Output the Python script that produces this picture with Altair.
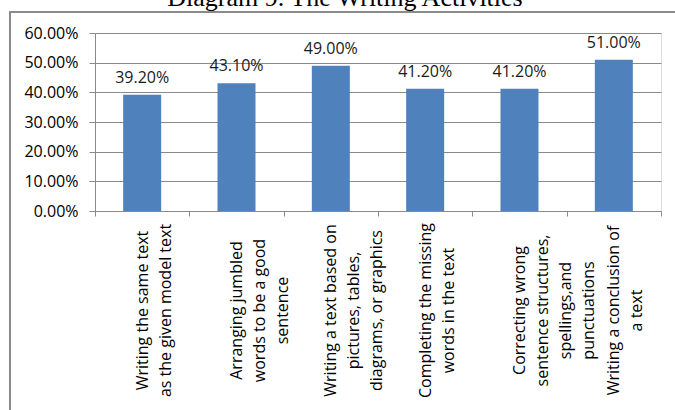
import altair as alt
import pandas as pd

# Data
categories = [
    "Writing the same text|as the given model text",
    "Arranging jumbled|words to be a good|sentence",
    "Writing a text based on|pictures, tables,|diagrams, or graphics",
    "Completing the missing|words in the text",
    "Correcting wrong|sentence structures,|spellings,and|punctuations",
    "Writing a conclusion of|a text",
]
values = [0.392, 0.431, 0.490, 0.412, 0.412, 0.510]
y_ticks = [0.0, 0.1, 0.2, 0.3, 0.4, 0.5, 0.6]
title_text = "Diagram 9. The Writing Activities"

df = pd.DataFrame({"activity": categories, "share": values})

FONT = "Open Sans"
GRAY = "#8a8a8a"

x_enc = alt.X(
    "activity:N",
    sort=None,
    title=None,
    scale=alt.Scale(paddingInner=0, paddingOuter=0),
    axis=alt.Axis(
        labelAngle=-90,
        labelAlign="center",
        labelBaseline="middle",
        labelExpr="split(datum.label, '|')",
        labelLineHeight=23,
        labelPadding=94,
        labelLimit=400,
        labelFont=FONT,
        labelFontSize=16,
        labelColor="#000000",
        labelOverlap=False,
        labelFlush=False,
        tickBand="extent",
        tickSize=5,
        tickColor=GRAY,
        domainColor=GRAY,
        grid=False,
    ),
)
y_enc = alt.Y(
    "share:Q",
    title=None,
    scale=alt.Scale(domain=[0, 0.6], nice=False),
    axis=alt.Axis(
        values=y_ticks,
        format=".2%",
        labelFont=FONT,
        labelFontSize=16,
        labelColor="#000000",
        labelPadding=11,
        labelOverlap=False,
        labelFlush=False,
        tickSize=6,
        tickColor=GRAY,
        domainColor=GRAY,
        grid=True,
        gridColor=GRAY,
        gridWidth=1,
    ),
)

base = alt.Chart(df).encode(x=x_enc, y=y_enc)

bars = base.mark_bar(color="#4F81BD", size=38)

labels = base.mark_text(
    font=FONT, fontSize=16, color="#1a1a1a", baseline="alphabetic", dy=-12
).encode(text=alt.Text("share:Q", format=".2%"))

border = alt.Chart(df).mark_rect(fill=None, stroke=GRAY, strokeWidth=1.2).encode(
    x=alt.value(-85), x2=alt.value(720), y=alt.value(-21), y2=alt.value(500)
)

title = alt.Chart(df).transform_filter("datum.activity == '" + categories[0] + "'").mark_text(
    font="Liberation Serif", fontSize=26, fontWeight="normal", color="#000000",
    align="center", baseline="alphabetic",
).encode(x=alt.value(250), y=alt.value(-27), text=alt.value(title_text))

chart = (
    alt.layer(bars, labels, border, title)
    .properties(
        width=566,
        height=178,
        autosize=alt.AutoSizeParams(type="none"),
        padding={"left": 95, "top": 33, "right": 14, "bottom": 199},
    )
    .configure_view(strokeWidth=0)
    .configure(background="white")
)

chart.save("out.html", embed_options={"renderer": "svg", "actions": False})
